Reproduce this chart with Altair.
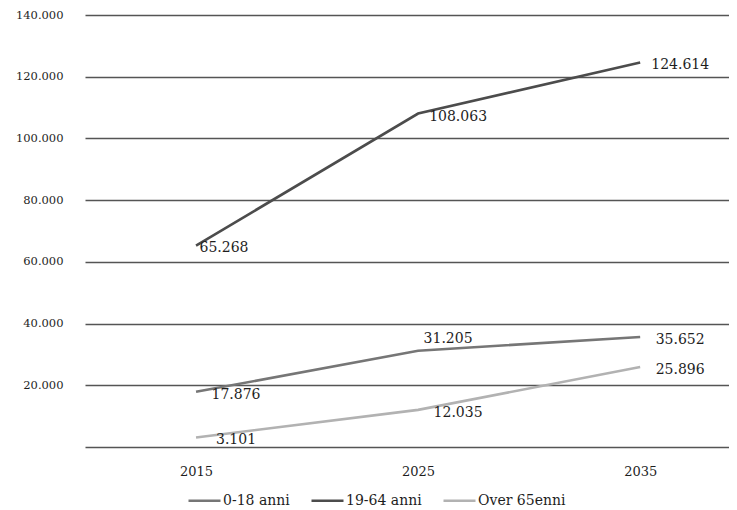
import altair as alt
import pandas as pd

years = [2015, 2025, 2035]
series_names = ["0-18 anni", "19-64 anni", "Over 65enni"]
v_0_18 = [17876, 31205, 35652]
v_19_64 = [65268, 108063, 124614]
v_over65 = [3101, 12035, 25896]
y_ticks = [0, 20000, 40000, 60000, 80000, 100000, 120000, 140000]
colors = ["#767676", "#4c4c4c", "#b2b2b2"]
widths = [2.6, 2.6, 1.8]

rows = []
for name, vals in zip(series_names, [v_0_18, v_19_64, v_over65]):
    for yr, v in zip(years, vals):
        rows.append({"anno": yr, "serie": name, "valore": v})
df = pd.DataFrame(rows)

FONT = "DejaVu Serif"
TXT = "#1e1e1e"

x = alt.X(
    "anno:Q",
    scale=alt.Scale(domain=[2010, 2039], nice=False, zero=False),
    axis=alt.Axis(values=years, format="d", title=None, grid=False, domain=False,
                  ticks=False, labelFontSize=13, labelPadding=18, labelFont=FONT,
                  labelColor=TXT),
)
y = alt.Y(
    "valore:Q",
    scale=alt.Scale(domain=[0, 140000], nice=False),
    axis=alt.Axis(values=y_ticks, title=None, domain=False, ticks=False,
                  labelExpr="datum.value == 0 ? '' : replace(format(datum.value, ','), ',', '.')",
                  labelPadding=22, labelFontSize=11.5, labelFont=FONT, labelColor=TXT,
                  gridColor="#555555", gridWidth=1.4),
)

base = alt.Chart(df)

lines = base.mark_line().encode(
    x=x,
    y=y,
    color=alt.Color(
        "serie:N",
        scale=alt.Scale(domain=series_names, range=colors),
        legend=alt.Legend(orient="none", legendX=102, legendY=468, direction="horizontal",
                          title=None, symbolType="stroke", symbolSize=1024,
                          symbolStrokeWidth=3, labelFontSize=14, labelFont=FONT,
                          labelColor=TXT, labelOffset=1, columnPadding=16),
    ),
    strokeWidth=alt.StrokeWidth("serie:N", scale=alt.Scale(domain=series_names, range=widths),
                                legend=None),
)

lab = base.transform_calculate(
    label="replace(format(datum.valore, ','), ',', '.')"
)

def text_layer(flt, dx, dy):
    return lab.transform_filter(flt).mark_text(
        dx=dx, dy=dy, font=FONT, fontSize=14, color=TXT, align="center", baseline="middle"
    ).encode(x="anno:Q", y="valore:Q", text="label:N")

sp1 = "datum.serie == '19-64 anni' && datum.anno == 2015"
sp2 = "datum.serie == '0-18 anni' && datum.anno == 2025"
t_main = text_layer(f"!({sp1}) && !({sp2})", 40, 3)
t_a = text_layer(sp1, 28, 2)
t_b = text_layer(sp2, 30, -12)

chart = alt.layer(lines, t_main, t_a, t_b).properties(
    width=644, height=432,
    autosize=alt.AutoSizeParams(type="none"),
    padding={"left": 77, "top": 7, "right": 0, "bottom": 66},
).configure_view(stroke=None)

chart.save("out.html", embed_options={"renderer": "svg", "actions": False})
